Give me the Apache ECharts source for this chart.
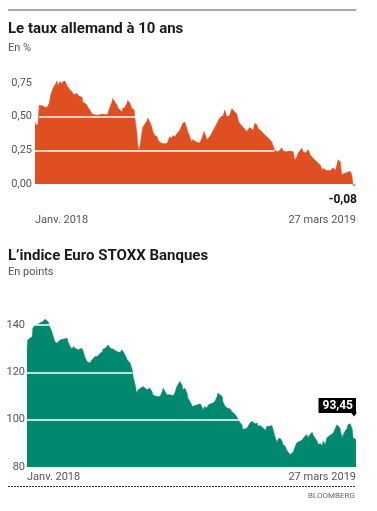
<!DOCTYPE html>
<html>
<head>
<meta charset="utf-8">
<script src="https://cdn.jsdelivr.net/npm/echarts@6.0.0/dist/echarts.min.js"></script>
<style>
  html, body { margin: 0; padding: 0; background: #fff; }
  #chart { width: 377px; height: 511px; }
</style>
</head>
<body>
<div id="chart"></div>
<script>
// jours depuis le 1er janvier 2018 (450 = 27 mars 2019)
var joursTaux = [0,1,4,6,8,11,14,17,20,22,25,29,31,32,35,38,39,42,45,46,49,52,53,56,59,60,63,66,67,70,73,74,77,80,81,84,87,91,94,98,102,105,108,109,112,115,116,119,122,123,126,129,130,133,136,137,139,140,143,144,146,147,149,150,151,157,158,161,164,165,168,171,172,175,179,185,186,189,192,193,196,199,203,207,210,213,214,217,220,221,227,231,234,237,241,245,250,255,259,264,266,269,273,276,278,280,283,285,287,292,297,301,306,308,311,313,318,320,325,329,332,334,336,341,346,348,353,357,362,364,367,369,374,376,379,383,386,390,395,400,403,404,409,414,418,421,423,425,428,430,432,437,442,444,445,446,450];
var taux = [0.46,0.44,0.44,0.585,0.58,0.58,0.57,0.57,0.60,0.66,0.71,0.745,0.765,0.73,0.76,0.745,0.76,0.765,0.73,0.72,0.70,0.685,0.67,0.665,0.675,0.66,0.65,0.645,0.61,0.60,0.585,0.57,0.55,0.52,0.516,0.515,0.51,0.515,0.52,0.515,0.52,0.57,0.61,0.635,0.61,0.585,0.57,0.55,0.535,0.56,0.57,0.60,0.62,0.60,0.56,0.55,0.55,0.49,0.375,0.29,0.25,0.28,0.35,0.39,0.42,0.47,0.49,0.46,0.42,0.39,0.36,0.35,0.33,0.31,0.30,0.30,0.295,0.35,0.34,0.36,0.35,0.375,0.40,0.45,0.46,0.41,0.39,0.35,0.31,0.33,0.31,0.305,0.34,0.39,0.33,0.35,0.40,0.45,0.49,0.51,0.55,0.50,0.51,0.56,0.55,0.535,0.52,0.47,0.45,0.42,0.39,0.42,0.40,0.45,0.44,0.41,0.39,0.375,0.35,0.33,0.31,0.30,0.25,0.24,0.27,0.245,0.24,0.245,0.24,0.18,0.20,0.23,0.265,0.24,0.23,0.255,0.215,0.19,0.165,0.14,0.10,0.115,0.10,0.10,0.12,0.10,0.14,0.18,0.165,0.07,0.06,0.085,0.095,0.07,0.03,-0.01,-0.01];

var joursStoxx = [0,1,4,7,8,11,15,21,22,25,27,29,31,34,36,38,41,42,45,49,55,56,59,62,63,66,68,70,72,75,77,79,82,83,86,89,90,93,96,100,103,104,107,109,111,114,116,118,120,123,127,130,131,134,137,138,141,144,145,148,150,152,155,157,159,161,164,166,168,171,172,175,178,179,182,185,186,189,191,193,196,200,202,205,207,209,212,213,216,219,220,223,226,227,233,237,239,241,243,246,248,250,254,257,260,261,264,267,268,271,274,278,280,282,285,287,289,291,294,295,301,305,308,309,312,315,316,319,323,326,328,330,332,335,336,339,342,343,346,349,350,353,356,357,360,362,364,367,369,371,373,376,378,380,383,384,387,390,391,394,397,398,401,404,405,408,410,412,414,419,421,424,425,428,431,432,435,438,439,442,445,446,450];
var stoxx = [129.5,133.7,134.4,135,138.6,140,140.4,141.4,140.7,142.4,142.8,141.4,139.3,137.2,135,133,132.3,133,133.7,134,134.4,133,130.9,129.8,130.9,130.2,130.9,129.5,128.8,130.2,128.8,126.7,124.6,125.3,123.9,125.3,124.6,126.7,126.7,128,128.8,129.8,130.2,130.6,131.6,130.2,129.5,129.8,129.5,128.8,128.4,129.5,128.8,127.4,125.3,124.6,123.9,121,118.3,114.7,111.2,112.6,113.3,112.6,114,114.3,112.6,111.9,113.3,111.9,110.5,110.1,109.8,110.5,109.8,111.9,113.3,111.9,110.5,111.2,110.5,110.1,111.2,114,114.7,116.1,114.7,112.6,113.3,111.2,109.1,107.7,105.6,104.9,106.3,106.7,105.6,104.2,105.6,104.9,106.3,105.6,107,107.7,109.8,111.2,110.5,109.8,107.7,105.6,104.9,104.5,103.5,102.8,102.1,101.1,100,98.9,97.9,95.8,96.5,98.6,99.3,98.9,98.3,98.6,97.2,97.5,96.5,95.5,97.2,97.9,97.2,97.5,96.5,93,90.2,91.6,92.3,90.9,89.5,88.8,86.7,86,85.3,86,86.2,88.8,90.2,90.5,90.9,91.3,90.9,93,93.7,92.3,93.7,94.7,93.7,92.3,90.9,89.5,89.9,89,90.9,89.5,92.3,93,93.3,94.4,95.8,97.9,97.2,96.5,92.3,93.3,95.1,96.5,97.9,98.3,95.8,92.3,91.6];

var etiquettesX = ['Janv. 2018', '27 mars 2019'];
var dernierTaux = '-0,08';
var dernierStoxx = '93,45';

// traits blancs de grille : [valeur, jour début, jour fin]
var grilleTaux = [[0.5, 6, 140], [0.25, 0, 336]];
var grilleStoxx = [[140, 8, 31], [120, 0, 144], [100, 0, 291]];

var orange = '#e04f22';
var vert = '#00896f';
var police = 'Roboto, "Open Sans", sans-serif';

function paires(x, y) {
  return x.map(function (d, i) { return [d, y[i]]; });
}
function segments(g) {
  return g.map(function (s) {
    return [{ coord: [s[1], s[0]] }, { coord: [s[2], s[0]] }];
  });
}
function axeX(idx, marge) {
  return {
    type: 'value', gridIndex: idx, min: 0, max: 450, interval: 450,
    axisLine: { show: false }, axisTick: { show: false }, splitLine: { show: false },
    axisLabel: {
      margin: marge, color: '#555', fontSize: 11, fontFamily: police,
      alignMinLabel: 'left', alignMaxLabel: 'right',
      formatter: function (v) { return v === 0 ? etiquettesX[0] : etiquettesX[1]; }
    }
  };
}
function titre(texte, haut, gras) {
  return {
    text: texte, left: 8, top: haut, padding: 0,
    textStyle: gras
      ? { fontSize: 15, fontWeight: 'bold', color: '#1a1a1a', fontFamily: police }
      : { fontSize: 11, fontWeight: 'normal', color: '#555', fontFamily: police }
  };
}

var chart = echarts.init(document.getElementById('chart'));
chart.setOption({
  animation: false,
  title: [
    titre('Le taux allemand à 10 ans', 22, true),
    titre('En %', 43, false),
    titre('L\u2019indice Euro STOXX Banques', 249, true),
    titre('En points', 267, false)
  ],
  graphic: [
    { type: 'line', shape: { x1: 8, y1: 10, x2: 356, y2: 10 }, style: { stroke: '#555', lineWidth: 1 } },
    { type: 'line', shape: { x1: 8, y1: 486.5, x2: 356, y2: 486.5 },
      style: { stroke: '#333', lineWidth: 1, lineDash: [2, 1] } },
    { type: 'text', right: 22, top: 492,
      style: { text: 'BLOOMBERG', fill: '#666', font: '8px ' + police } }
  ],
  grid: [
    { left: 35, right: 21, top: 83, height: 101 },
    { left: 27, right: 21, top: 325, height: 142 }
  ],
  xAxis: [axeX(0, 31), axeX(1, 5)],
  yAxis: [
    { type: 'value', gridIndex: 0, min: 0, max: 0.75, interval: 0.25,
      axisLine: { show: false }, axisTick: { show: false }, splitLine: { show: false },
      axisLabel: { margin: 3, color: '#555', fontSize: 11, fontFamily: police,
        formatter: function (v) { return v.toFixed(2).replace('.', ','); } } },
    { type: 'value', gridIndex: 1, min: 80, max: 140, interval: 20,
      axisLine: { show: false }, axisTick: { show: false }, splitLine: { show: false },
      axisLabel: { margin: 2, color: '#555', fontSize: 11, fontFamily: police } }
  ],
  series: [
    {
      type: 'line', xAxisIndex: 0, yAxisIndex: 0, data: paires(joursTaux, taux),
      symbol: 'none', clip: false,
      lineStyle: { width: 0.5, color: orange }, areaStyle: { color: orange, opacity: 1 },
      markLine: { silent: true, symbol: ['none', 'none'], label: { show: false }, z: 10,
        lineStyle: { color: '#fff', width: 1.5, type: 'solid' }, data: segments(grilleTaux) },
      markPoint: { silent: true, symbol: 'circle', symbolSize: 1, itemStyle: { color: 'rgba(0,0,0,0)' },
        // ancré sur l'axe à 0 : la dernière valeur est sous le minimum de l'axe
        data: [{ coord: [joursTaux[joursTaux.length - 1], 0] }],
        label: { show: true, formatter: dernierTaux, position: 'inside', align: 'right',
          verticalAlign: 'middle', offset: [1, 16], color: '#111', fontSize: 12,
          fontWeight: 'bold', fontFamily: police } }
    },
    {
      type: 'line', xAxisIndex: 1, yAxisIndex: 1, data: paires(joursStoxx, stoxx),
      symbol: 'none', clip: false,
      lineStyle: { width: 0.5, color: vert }, areaStyle: { color: vert, opacity: 1 },
      markLine: { silent: true, symbol: ['none', 'none'], label: { show: false }, z: 10,
        lineStyle: { color: '#fff', width: 1.5, type: 'solid' }, data: segments(grilleStoxx) },
      markPoint: { silent: true,
        data: [
          { coord: [joursStoxx[joursStoxx.length - 1], stoxx[stoxx.length - 1]],
            symbol: 'circle', symbolSize: 1, itemStyle: { color: 'rgba(0,0,0,0)' },
            label: { show: true, formatter: dernierStoxx, position: 'inside', align: 'right',
              verticalAlign: 'middle', offset: [0, -34], color: '#fff', backgroundColor: '#000',
              padding: [2, 3, 1, 4], fontSize: 12, fontWeight: 'bold', fontFamily: police } },
          { coord: [joursStoxx[joursStoxx.length - 1], stoxx[stoxx.length - 1]],
            symbol: 'triangle', symbolRotate: 180, symbolSize: [6, 4], symbolOffset: [-2, -25],
            itemStyle: { color: '#000' }, label: { show: false } }
        ] }
    }
  ]
});
</script>
</body>
</html>
